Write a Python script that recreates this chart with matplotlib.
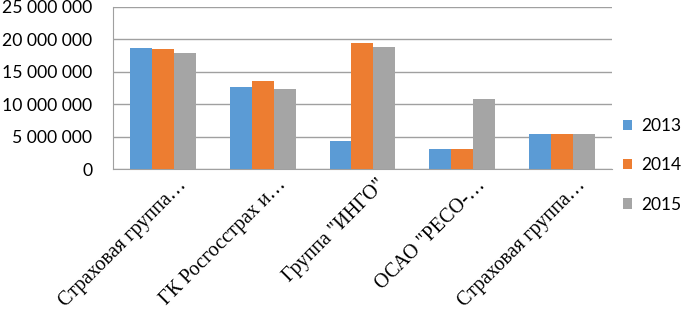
import matplotlib.pyplot as plt
import matplotlib.transforms as mtransforms
import numpy as np

categories = ['Страховая группа…', 'ГК Росгосстрах и…', 'Группа "ИНГО"',
              'ОСАО "РЕСО-…', 'Страховая группа…']
years = ['2013', '2014', '2015']
v2013 = [18670000, 12600000, 4270000, 3090000, 5400000]
v2014 = [18470000, 13580000, 19400000, 3090000, 5400000]
v2015 = [17850000, 12300000, 18780000, 10800000, 5400000]
yticks = [0, 5000000, 10000000, 15000000, 20000000, 25000000]
ytick_labels = ['0', '5 000 000', '10 000 000', '15 000 000', '20 000 000', '25 000 000']

colors = ['#5B9BD5', '#ED7D31', '#A5A5A5']

fig = plt.figure(figsize=(6.83, 3.12), dpi=100)
ax = fig.add_axes([0.1654, 0.4583, 0.7306, 0.5193])

x = np.arange(len(categories))
w = 0.22
for i, vals in enumerate([v2013, v2014, v2015]):
    ax.bar(x + (i - 1) * w, vals, w, color=colors[i], label=years[i], zorder=3)

ax.set_xlim(-0.5, len(categories) - 0.5)
ax.set_ylim(0, 25000000)
ax.set_yticks(yticks)
ax.set_yticklabels(ytick_labels, fontfamily='Lato', fontsize=12.7)
ax.yaxis.grid(True, color='#a0a0a0', linewidth=1, zorder=0)
ax.tick_params(axis='y', length=0, pad=15)
ax.tick_params(axis='x', length=0, pad=2)

ax.set_xticks(x)
ax.set_xticklabels(categories, rotation=45, ha='right', rotation_mode='anchor',
                   fontfamily='Liberation Serif', fontsize=14.5)
offset = mtransforms.ScaledTranslation(14 / 100, -4 / 100, fig.dpi_scale_trans)
for lbl in ax.get_xticklabels():
    lbl.set_transform(lbl.get_transform() + offset)

for s in ['top', 'right']:
    ax.spines[s].set_visible(False)
ax.spines['left'].set_color('#a0a0a0')
ax.spines['bottom'].set_color('#a0a0a0')

leg = ax.legend(loc='center left', bbox_to_anchor=(0.912, 0.47),
                bbox_transform=fig.transFigure, frameon=False,
                prop={'family': 'Lato', 'size': 12.5},
                handlelength=0.55, handleheight=0.55, handletextpad=0.5,
                labelspacing=1.35, borderpad=0, borderaxespad=0)

fig.savefig('out.png', dpi=100)
